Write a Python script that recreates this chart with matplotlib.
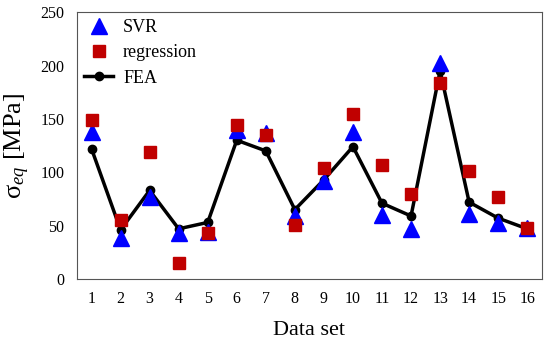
import numpy as np
import matplotlib.pyplot as plt

plt.rcParams['font.family'] = ['Liberation Serif', 'DejaVu Serif']
plt.rcParams['mathtext.fontset'] = 'custom'
plt.rcParams['mathtext.rm'] = 'Liberation Serif'
plt.rcParams['mathtext.it'] = 'Liberation Serif:italic'

data_set = np.arange(1, 17)
fea = [122, 46, 83, 47, 53, 130, 120, 65, 93, 124, 71, 59, 195, 72, 57, 47]
svr = [138, 38, 77, 43, 44, 140, 137, 59, 92, 138, 60, 47, 202, 61, 52, 48]
regression = [149, 55, 119, 15, 43, 144, 135, 51, 104, 155, 107, 80, 184, 101, 77, 48]

fig = plt.figure(figsize=(5.5, 3.47), dpi=100)
ax = fig.add_axes([0.14, 0.196, 0.845, 0.769])

ax.plot(data_set, svr, '^', color='#0000ff', markersize=11, label='SVR', zorder=3)
ax.plot(data_set, regression, 's', color='#c00000', markersize=9, label='regression', zorder=4)
ax.plot(data_set, fea, '-o', color='black', linewidth=2.5, markersize=6, label='FEA', zorder=2)

ax.set_xlim(0.5, 16.5)
ax.set_ylim(0, 250)
ax.set_xticks(data_set)
ax.set_yticks(range(0, 251, 50))
ax.tick_params(axis='both', labelsize=11.5, length=0, pad=9)
ax.set_xlabel('Data set', fontsize=16, labelpad=10)
ax.set_ylabel('σ$_{eq}$ [MPa]', fontsize=19, labelpad=6)
for s in ax.spines.values():
    s.set_color('#555555')

ax.legend(loc='upper left', frameon=False, fontsize=13, handlelength=1.6,
          handletextpad=0.55, borderaxespad=0.1, borderpad=0.3, labelspacing=0.45)

fig.savefig('out.png')
